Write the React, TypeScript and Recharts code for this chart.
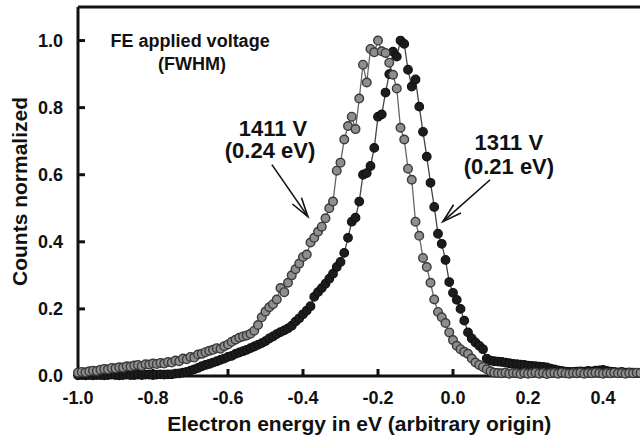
import { LineChart, Line, XAxis, YAxis, ReferenceDot, ReferenceLine } from "recharts";

const FONT = '"Liberation Sans", Arial, Helvetica, sans-serif';

// energy grid in eV (arbitrary origin)
const ENERGY = [
  -1.0, -0.99, -0.98, -0.97, -0.96, -0.95, -0.94, -0.93, -0.92, -0.91,
  -0.9, -0.89, -0.88, -0.87, -0.86, -0.85, -0.84, -0.83, -0.82, -0.81,
  -0.8, -0.79, -0.78, -0.77, -0.76, -0.75, -0.74, -0.73, -0.72, -0.71,
  -0.7, -0.69, -0.68, -0.67, -0.66, -0.65, -0.64, -0.63, -0.62, -0.61,
  -0.6, -0.59, -0.58, -0.57, -0.56, -0.55, -0.54, -0.53, -0.52, -0.51,
  -0.5, -0.49, -0.48, -0.47, -0.46, -0.45, -0.44, -0.43, -0.42, -0.41,
  -0.4, -0.39, -0.38, -0.37, -0.36, -0.35, -0.34, -0.33, -0.32, -0.31,
  -0.3, -0.29, -0.28, -0.27, -0.26, -0.25, -0.24, -0.23, -0.22, -0.21,
  -0.2, -0.19, -0.18, -0.17, -0.16, -0.15, -0.14, -0.13, -0.12, -0.11,
  -0.1, -0.09, -0.08, -0.07, -0.06, -0.05, -0.04, -0.03, -0.02, -0.01,
  0.0, 0.01, 0.02, 0.03, 0.04, 0.05, 0.06, 0.07, 0.08, 0.09,
  0.1, 0.11, 0.12, 0.13, 0.14, 0.15, 0.16, 0.17, 0.18, 0.19,
  0.2, 0.21, 0.22, 0.23, 0.24, 0.25, 0.26, 0.27, 0.28, 0.29,
  0.3, 0.31, 0.32, 0.33, 0.34, 0.35, 0.36, 0.37, 0.38, 0.39,
  0.4, 0.41, 0.42, 0.43, 0.44, 0.45, 0.46, 0.47, 0.48, 0.49,
  0.5,
];

// 1411 V (grey points)
const COUNTS_1411 = [
  0.010, 0.012, 0.011, 0.014, 0.016, 0.015, 0.019, 0.021, 0.020, 0.024,
  0.023, 0.026, 0.025, 0.029, 0.028, 0.031, 0.033, 0.030, 0.035, 0.034,
  0.037, 0.036, 0.039, 0.037, 0.042, 0.040, 0.046, 0.044, 0.052, 0.050,
  0.057, 0.055, 0.064, 0.066, 0.071, 0.075, 0.078, 0.083, 0.081, 0.089,
  0.094, 0.102, 0.108, 0.114, 0.118, 0.121, 0.126, 0.135, 0.152, 0.175,
  0.192, 0.205, 0.214, 0.228, 0.262, 0.250, 0.278, 0.300, 0.318, 0.335,
  0.355, 0.362, 0.398, 0.412, 0.430, 0.445, 0.470, 0.500, 0.520, 0.612,
  0.636, 0.705, 0.745, 0.773, 0.736, 0.827, 0.928, 0.875, 0.975, 0.965,
  1.000, 0.968, 0.963, 0.934, 0.898, 0.857, 0.740, 0.705, 0.618, 0.585,
  0.460, 0.418, 0.352, 0.325, 0.278, 0.228, 0.191, 0.175, 0.158, 0.130,
  0.107, 0.090, 0.080, 0.072, 0.066, 0.052, 0.040, 0.033, 0.027, 0.020,
  0.014, 0.010, 0.009, 0.008, 0.010, 0.007, 0.009, 0.008, 0.006, 0.009,
  0.007, 0.008, 0.010, 0.007, 0.009, 0.006, 0.008, 0.009, 0.007, 0.010,
  0.008, 0.007, 0.009, 0.008, 0.010, 0.007, 0.009, 0.008, 0.010, 0.009,
  0.007, 0.009, 0.008, 0.010, 0.008, 0.009, 0.007, 0.009, 0.008, 0.010,
  0.009,
];

// 1311 V (black points)
const COUNTS_1311 = [
  0.002, 0.003, 0.002, 0.003, 0.002, 0.003, 0.003, 0.002, 0.003, 0.004,
  0.003, 0.002, 0.003, 0.004, 0.003, 0.003, 0.004, 0.003, 0.004, 0.004,
  0.003, 0.004, 0.005, 0.004, 0.005, 0.005, 0.007, 0.008, 0.010, 0.012,
  0.016, 0.020, 0.024, 0.029, 0.033, 0.036, 0.040, 0.044, 0.048, 0.052,
  0.057, 0.060, 0.066, 0.070, 0.074, 0.078, 0.083, 0.088, 0.093, 0.098,
  0.104, 0.112, 0.118, 0.125, 0.131, 0.136, 0.142, 0.150, 0.162, 0.172,
  0.184, 0.195, 0.208, 0.236, 0.250, 0.262, 0.275, 0.290, 0.305, 0.325,
  0.340, 0.367, 0.412, 0.460, 0.472, 0.520, 0.600, 0.605, 0.626, 0.680,
  0.773, 0.780, 0.845, 0.900, 0.967, 0.952, 1.000, 0.990, 0.913, 0.863,
  0.884, 0.803, 0.728, 0.654, 0.576, 0.504, 0.424, 0.394, 0.346, 0.280,
  0.248, 0.227, 0.200, 0.165, 0.130, 0.112, 0.100, 0.090, 0.080, 0.052,
  0.046, 0.044, 0.043, 0.042, 0.040, 0.038, 0.036, 0.035, 0.034, 0.033,
  0.031, 0.030, 0.029, 0.028, 0.027, 0.026, 0.022, 0.020, 0.017, 0.015,
  0.013, 0.012, 0.012, 0.013, 0.014, 0.013, 0.015, 0.014, 0.016, 0.017,
  0.018, 0.015, 0.013, 0.012, 0.011, 0.012, 0.010, 0.011, 0.010, 0.009,
  0.010,
];

const X_TICKS = [-1.0, -0.8, -0.6, -0.4, -0.2, 0.0, 0.2, 0.4];
const Y_TICKS = [0, 0.2, 0.4, 0.6, 0.8, 1.0];

const rows = ENERGY.map((e, i) => ({ e, v1411: COUNTS_1411[i], v1311: COUNTS_1311[i] }));

const fmt = (v: number) => v.toFixed(1);

const Arrow = (props: any) => {
  const { x1, y1, x2, y2 } = props;
  const ang = Math.atan2(y2 - y1, x2 - x1);
  const L = 20;
  const a = 0.28;
  const ax = x2 - L * Math.cos(ang - a);
  const ay = y2 - L * Math.sin(ang - a);
  const bx = x2 - L * Math.cos(ang + a);
  const by = y2 - L * Math.sin(ang + a);
  return (
    <g stroke="#111" strokeWidth={1.6} fill="none">
      <line x1={x1} y1={y1} x2={x2} y2={y2} />
      <polyline points={`${ax},${ay} ${x2},${y2} ${bx},${by}`} />
    </g>
  );
};

const textLabel = (value: string, size: number) => ({
  value,
  position: "center" as const,
  fontSize: size,
  fontWeight: "bold",
  fontFamily: FONT,
  fill: "#111",
});

export default function App() {
  return (
    <div style={{ position: "absolute", left: 0, top: 0, width: 640, height: 443, overflow: "hidden", background: "#fff" }}>
      <LineChart width={700} height={443} data={rows} margin={{ top: 6, right: 0, bottom: 7, left: 0 }}>
        <XAxis
          xAxisId="bottom"
          dataKey="e"
          type="number"
          domain={[-1.0, 0.5]}
          ticks={X_TICKS}
          tickFormatter={fmt}
          height={60}
          tickSize={-7}
          tickMargin={22}
          axisLine={{ stroke: "#111", strokeWidth: 3 }}
          tickLine={{ stroke: "#111", strokeWidth: 3 }}
          tick={{ fontSize: 18, fontWeight: "bold", fill: "#111", fontFamily: FONT }}
          label={{
            value: "Electron energy in eV (arbitrary origin)",
            position: "insideBottom",
            offset: 5,
            style: { fontSize: 21, fontWeight: "bold", fontFamily: FONT, fill: "#111" },
          }}
        />
        <XAxis
          xAxisId="top"
          orientation="top"
          type="number"
          domain={[-1.0, 0.5]}
          ticks={X_TICKS}
          height={1}
          tickSize={-7}
          tick={false}
          axisLine={{ stroke: "#111", strokeWidth: 3 }}
          tickLine={{ stroke: "#111", strokeWidth: 3 }}
        />
        <YAxis
          yAxisId="left"
          type="number"
          domain={[0, 1.1]}
          ticks={Y_TICKS}
          tickFormatter={fmt}
          width={78}
          tickSize={-7}
          tickMargin={22}
          axisLine={{ stroke: "#111", strokeWidth: 3 }}
          tickLine={{ stroke: "#111", strokeWidth: 3 }}
          tick={{ fontSize: 18, fontWeight: "bold", fill: "#111", fontFamily: FONT }}
          label={{
            value: "Counts normalized",
            angle: -90,
            position: "insideLeft",
            offset: 20,
            style: { textAnchor: "middle", fontSize: 21, fontWeight: "bold", fontFamily: FONT, fill: "#111" },
          }}
        />
        <YAxis
          yAxisId="right"
          orientation="right"
          type="number"
          domain={[0, 1.1]}
          ticks={Y_TICKS}
          width={59.5}
          tickSize={-7}
          tick={false}
          axisLine={false}
          tickLine={{ stroke: "#111", strokeWidth: 3 }}
        />

        <Line
          xAxisId="bottom"
          yAxisId="left"
          dataKey="v1311"
          stroke="#444"
          strokeWidth={1.3}
          dot={{ r: 4.3, fill: "#1c1c1c", stroke: "#111", strokeWidth: 1.2 }}
          isAnimationActive={false}
        />
        <Line
          xAxisId="bottom"
          yAxisId="left"
          dataKey="v1411"
          stroke="#666"
          strokeWidth={1.3}
          dot={{ r: 4.3, fill: "#8e8e8e", stroke: "#3a3a3a", strokeWidth: 1.4 }}
          isAnimationActive={false}
        />

        <ReferenceLine
          xAxisId="bottom"
          yAxisId="left"
          segment={[{ x: -0.483, y: 0.63 }, { x: -0.387, y: 0.475 }]}
          shape={Arrow}
        />
        <ReferenceLine
          xAxisId="bottom"
          yAxisId="left"
          segment={[{ x: 0.099, y: 0.585 }, { x: -0.027, y: 0.46 }]}
          shape={Arrow}
        />

        <ReferenceDot xAxisId="bottom" yAxisId="left" x={-0.701} y={1.0} r={0} label={textLabel("FE applied voltage", 18)} />
        <ReferenceDot xAxisId="bottom" yAxisId="left" x={-0.696} y={0.931} r={0} label={textLabel("(FWHM)", 18)} />
        <ReferenceDot xAxisId="bottom" yAxisId="left" x={-0.48} y={0.74} r={0} label={textLabel("1411 V", 22)} />
        <ReferenceDot xAxisId="bottom" yAxisId="left" x={-0.488} y={0.672} r={0} label={textLabel("(0.24 eV)", 22)} />
        <ReferenceDot xAxisId="bottom" yAxisId="left" x={0.149} y={0.696} r={0} label={textLabel("1311 V", 22)} />
        <ReferenceDot xAxisId="bottom" yAxisId="left" x={0.149} y={0.624} r={0} label={textLabel("(0.21 eV)", 22)} />
      </LineChart>
    </div>
  );
}
